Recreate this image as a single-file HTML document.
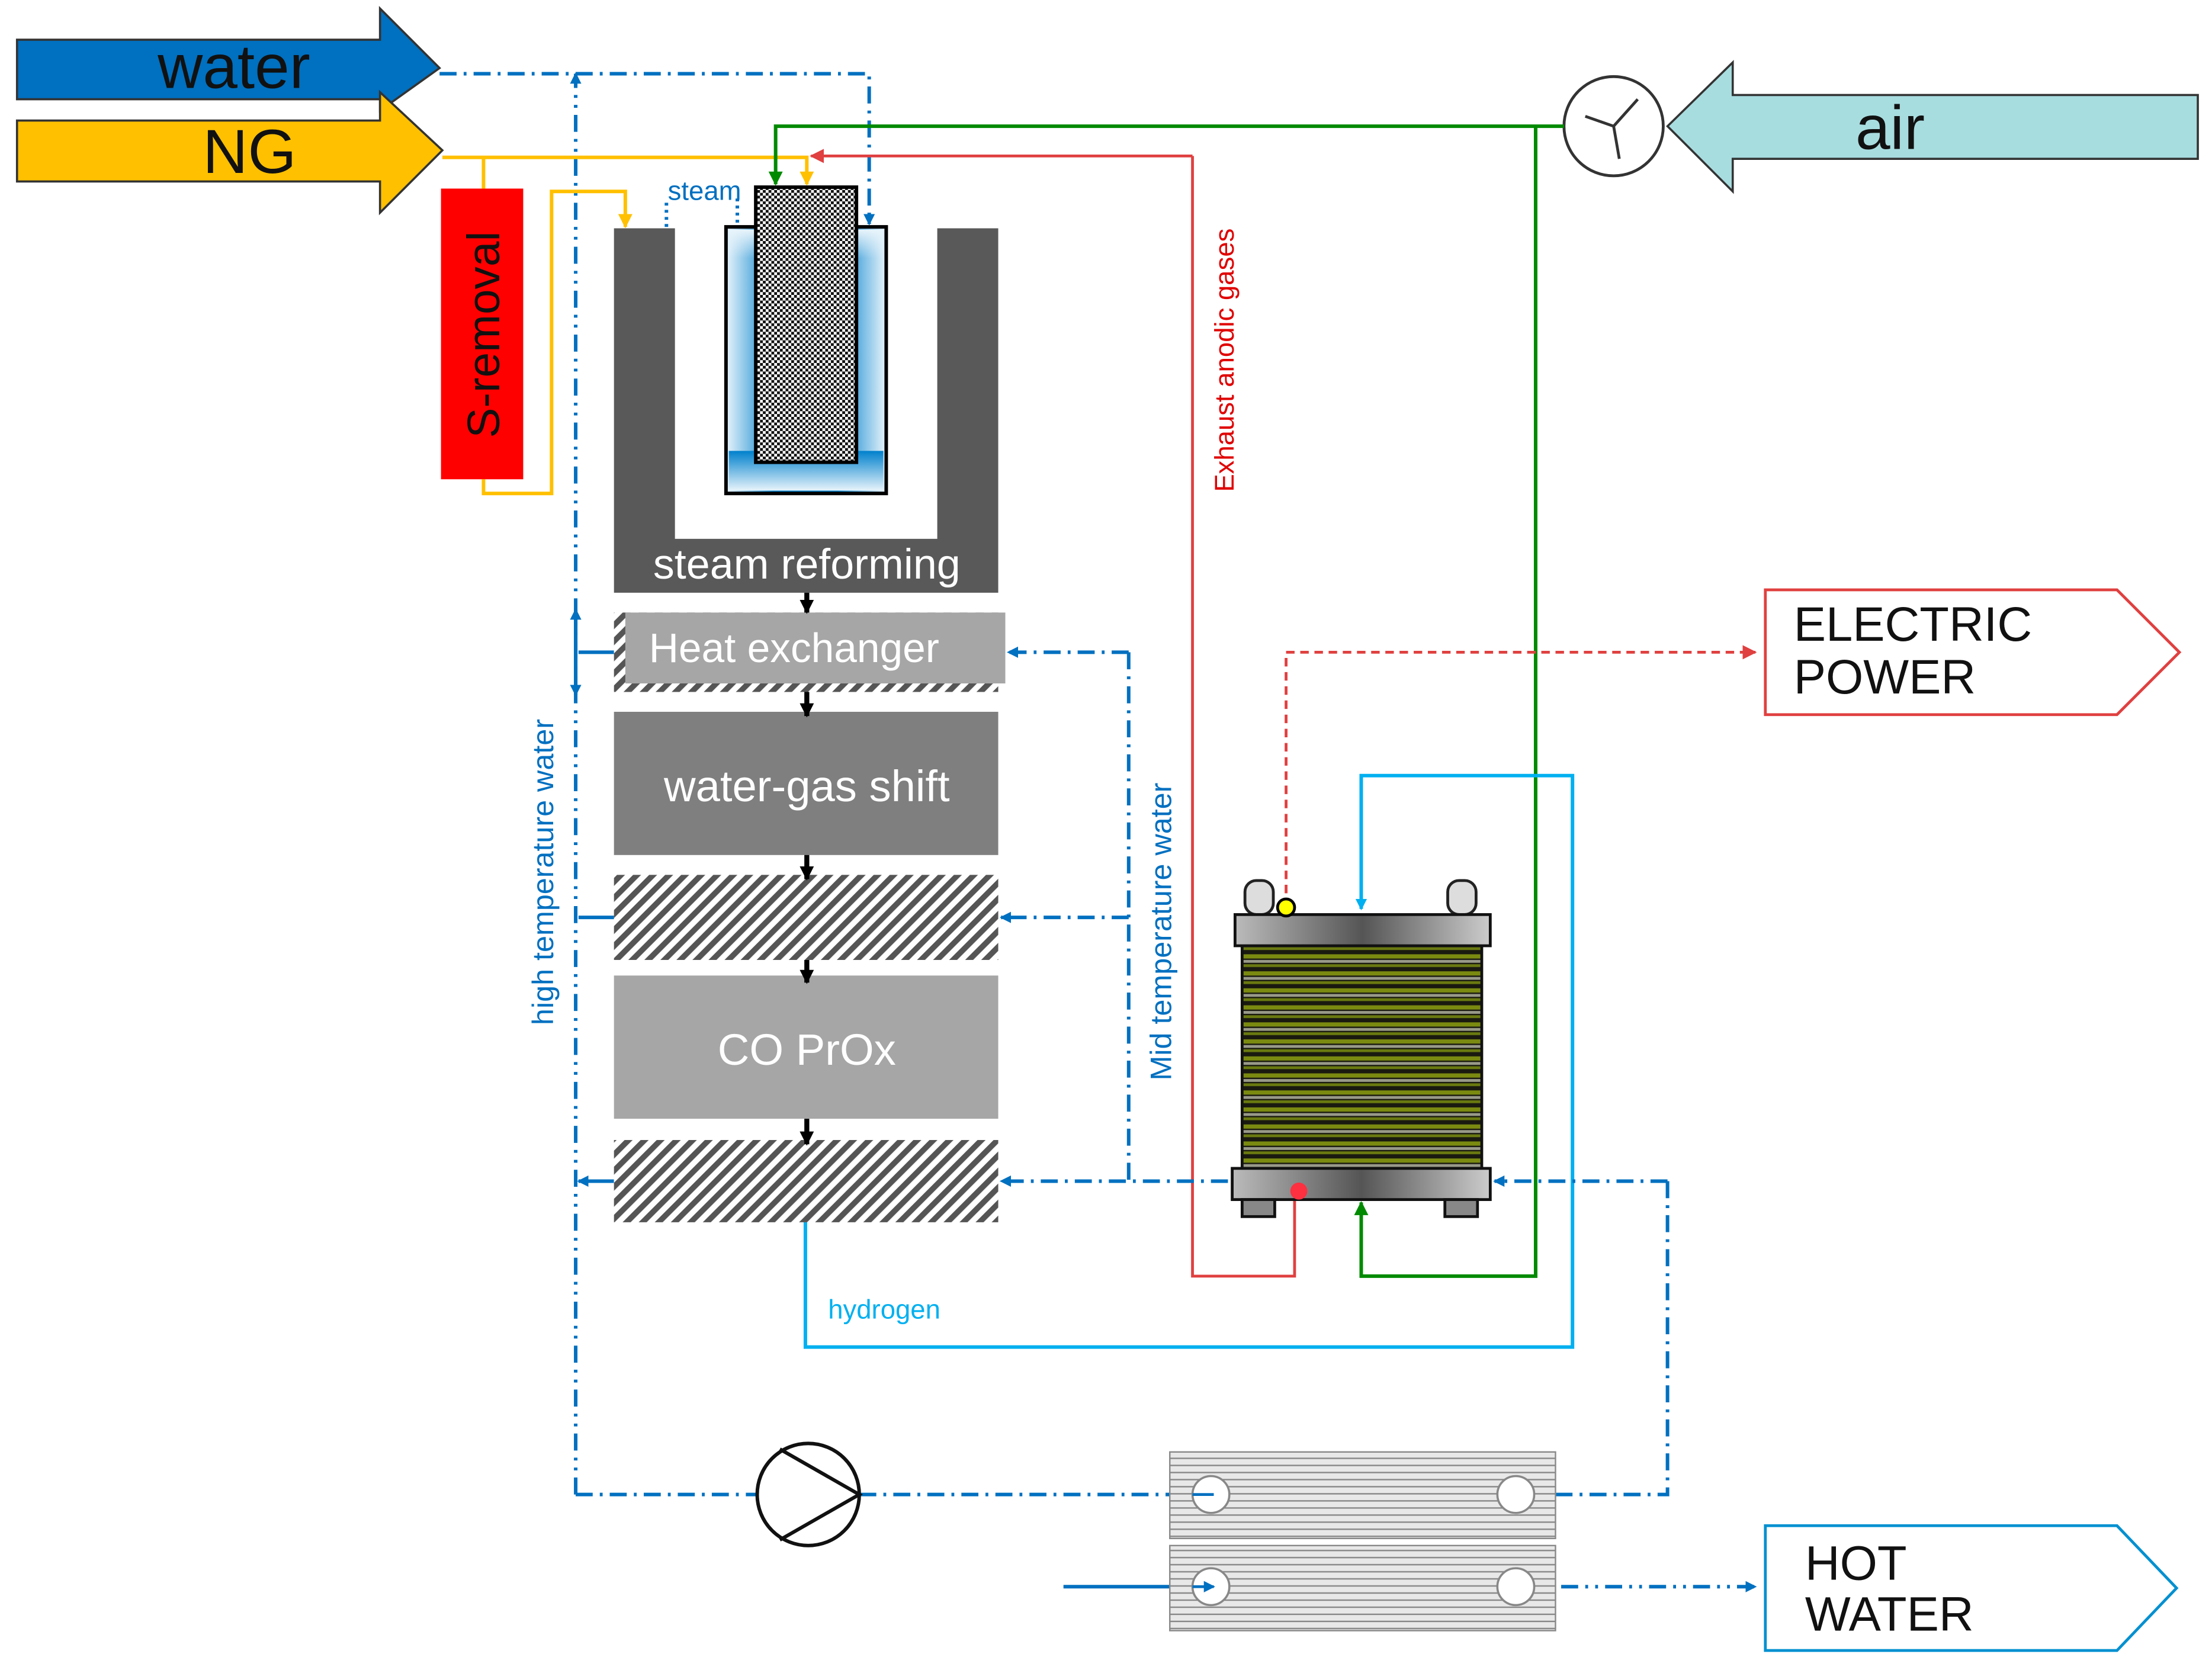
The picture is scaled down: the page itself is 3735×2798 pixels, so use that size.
<!DOCTYPE html>
<html><head><meta charset="utf-8"><style>
html,body{margin:0;padding:0;background:#fff;}
svg{display:block;}
text{font-family:"Liberation Sans",Arial,sans-serif;}
</style></head><body>
<svg width="3735" height="2798" viewBox="0 0 1560 1168.6" preserveAspectRatio="none" xmlns="http://www.w3.org/2000/svg">
<defs>
<pattern id="hatch" width="8" height="8" patternUnits="userSpaceOnUse" patternTransform="rotate(45)">
<rect width="8" height="8" fill="#fff"/><rect width="4" height="8" fill="#555"/>
</pattern>
<pattern id="chk" width="4" height="4" patternUnits="userSpaceOnUse">
<rect width="4" height="4" fill="#fff"/><rect width="2" height="2" fill="#111"/><rect x="2" y="2" width="2" height="2" fill="#111"/>
</pattern>
<linearGradient id="bl" x1="0" x2="1"><stop offset="0" stop-color="#e8f4fb"/><stop offset="0.3" stop-color="#0080cc"/><stop offset="0.7" stop-color="#0080cc"/><stop offset="1" stop-color="#e8f4fb"/></linearGradient>
<linearGradient id="blv" x1="0" x2="0" y1="0" y2="1"><stop offset="0" stop-color="#0080cc"/><stop offset="1" stop-color="#e8f4fb"/></linearGradient>
<linearGradient id="blt" x1="0" x2="0" y1="0" y2="1"><stop offset="0" stop-color="#e8f4fb"/><stop offset="1" stop-color="#e8f4fb" stop-opacity="0"/></linearGradient>
<linearGradient id="plate" x1="0" x2="1"><stop offset="0" stop-color="#bbb"/><stop offset="0.5" stop-color="#555"/><stop offset="1" stop-color="#ccc"/></linearGradient>
<pattern id="stack" width="10" height="12" patternUnits="userSpaceOnUse">
<rect width="10" height="12" fill="#1a1a10"/><rect y="1" width="10" height="3" fill="#7a8a10"/><rect y="5" width="10" height="2" fill="#9a9a8a"/><rect y="8" width="10" height="2" fill="#6a7a10"/>
</pattern>
<pattern id="hx" width="10" height="5" patternUnits="userSpaceOnUse">
<rect width="10" height="5" fill="#e8e8e8"/><rect y="3" width="10" height="1" fill="#888"/>
</pattern>
<marker id="ab" markerWidth="8" markerHeight="8" refX="7" refY="4" orient="auto" markerUnits="userSpaceOnUse"><path d="M0,0 L8,4 L0,8 z" fill="#0070c0"/></marker>
<marker id="ac" markerWidth="8" markerHeight="8" refX="7" refY="4" orient="auto" markerUnits="userSpaceOnUse"><path d="M0,0 L8,4 L0,8 z" fill="#00b0f0"/></marker>
<marker id="ay" markerWidth="10" markerHeight="10" refX="9" refY="5" orient="auto" markerUnits="userSpaceOnUse"><path d="M0,0 L10,5 L0,10 z" fill="#ffc000"/></marker>
<marker id="ag" markerWidth="10" markerHeight="10" refX="9" refY="5" orient="auto" markerUnits="userSpaceOnUse"><path d="M0,0 L10,5 L0,10 z" fill="#008a00"/></marker>
<marker id="ar" markerWidth="10" markerHeight="10" refX="9" refY="5" orient="auto" markerUnits="userSpaceOnUse"><path d="M0,0 L10,5 L0,10 z" fill="#e04040"/></marker>
<marker id="ak" markerWidth="10" markerHeight="10" refX="9" refY="5" orient="auto" markerUnits="userSpaceOnUse"><path d="M0,0 L10,5 L0,10 z" fill="#000"/></marker>
</defs>

<path d="M12,28 H268 V6 L310,48 L268,78 V70 H12 z" fill="#0070c0" stroke="#333" stroke-width="1.5"/>
<text x="165" y="62" font-size="44" text-anchor="middle" fill="#111">water</text>
<path d="M12,85 H268 V65 L312,106 L268,150 V128 H12 z" fill="#ffc000" stroke="#333" stroke-width="1.5"/>
<text x="176" y="122" font-size="44" text-anchor="middle" fill="#111">NG</text>
<path d="M1550,67 H1222 V44 L1176,89 L1222,135 V112 H1550 z" fill="#a8dde0" stroke="#333" stroke-width="1.5"/>
<text x="1333" y="105" font-size="44" text-anchor="middle" fill="#111">air</text>
<circle cx="1138" cy="89" r="35" fill="#fff" stroke="#333" stroke-width="2"/>
<path d="M1138,89 L1155,70 M1138,89 L1118,82 M1138,89 L1142,112" stroke="#333" stroke-width="2"/>

<rect x="311" y="133" width="58" height="205" fill="#ff0000"/>
<text transform="translate(352,236) rotate(-90)" font-size="32" text-anchor="middle" fill="#111">S-removal</text>

<g fill="none" stroke-width="2.5">
<path d="M310,52 H613 V158" stroke="#0070c0" stroke-dasharray="12,5,2,5" marker-end="url(#ab)"/>
<path d="M406,1054 V52" stroke="#0070c0" stroke-dasharray="12,5,2,5,2,5" marker-end="url(#ab)"/>
<path d="M312,111 H569 V130" stroke="#ffc000" marker-end="url(#ay)"/>
<path d="M341,111 V133 M341,338 V348 H389 V135 H441 V160" stroke="#ffc000" marker-end="url(#ay)"/>
<path d="M470,160 V140 M520,140 V160" stroke="#0070c0" stroke-dasharray="2,3"/>
<path d="M1103,89 H547 V130" stroke="#008a00" marker-end="url(#ag)"/>
<path d="M1083,89 V900 H960 V848" stroke="#008a00" marker-end="url(#ag)"/>
<path d="M841,110 H572" stroke="#e04040" stroke-width="2" marker-end="url(#ar)"/>
<path d="M841,110 V900 H913 V845" stroke="#e04040" stroke-width="2"/>
<path d="M907,630 V460 H1238" stroke="#e04040" stroke-width="2" stroke-dasharray="6,4" marker-end="url(#ar)"/>
<path d="M568,862 V950 H1109 V547 H960 V641" stroke="#00b0f0" marker-end="url(#ac)"/>
<path d="M796,460 V833" stroke="#0070c0" stroke-dasharray="12,5,2,5"/>
<path d="M796,460 H711" stroke="#0070c0" stroke-dasharray="12,5,2,5" marker-end="url(#ab)"/>
<path d="M796,647 H706" stroke="#0070c0" stroke-dasharray="12,5,2,5" marker-end="url(#ab)"/>
<path d="M866,833 H706" stroke="#0070c0" stroke-dasharray="12,5,2,5" marker-end="url(#ab)"/>
<path d="M433,460 H408 M433,647 H408 M433,833 H408" stroke="#0070c0" marker-end="url(#ab)"/>
<path d="M406,430 V490" stroke="#0070c0" marker-end="url(#ab)"/>
<path d="M406,490 V430" stroke="#0070c0" marker-end="url(#ab)"/>
<path d="M1176,833 V1054 H1097" stroke="#0070c0" stroke-dasharray="12,5,2,5"/>
<path d="M1176,833 H1054" stroke="#0070c0" stroke-dasharray="12,5,2,5" marker-end="url(#ab)"/>
<path d="M406,1054 H534 M606,1054 H852" stroke="#0070c0" stroke-dasharray="12,5,2,5" marker-end="url(#ab)"/>
<path d="M750,1119 H852" stroke="#0070c0" marker-end="url(#ab)"/>
<path d="M1070,1119 H1238" stroke="#0070c0" stroke-dasharray="12,5,2,5,2,5" marker-end="url(#ab)"/>
</g>
<text x="471" y="141" font-size="19" fill="#0070c0">steam</text>

<path d="M433,161 H476 V380 H661 V161 H704 V418 H433 z" fill="#595959"/>
<text x="569" y="408" font-size="30" text-anchor="middle" fill="#fff">steam reforming</text>
<rect x="512" y="160" width="113" height="188" fill="url(#bl)" stroke="#000" stroke-width="2.5"/>
<rect x="514" y="162" width="109" height="20" fill="url(#blt)"/>
<rect x="514" y="318" width="109" height="28" fill="url(#blv)"/>
<rect x="533" y="132" width="71" height="194" fill="url(#chk)" stroke="#000" stroke-width="2.5"/>

<rect x="433" y="432" width="271" height="56" fill="url(#hatch)"/>
<rect x="441" y="432" width="268" height="50" fill="#a6a6a6"/>
<text x="560" y="467" font-size="29" text-anchor="middle" fill="#fff">Heat exchanger</text>
<rect x="433" y="502" width="271" height="101" fill="#7f7f7f"/>
<text x="569" y="565" font-size="31" text-anchor="middle" fill="#fff">water-gas shift</text>
<rect x="433" y="617" width="271" height="60" fill="url(#hatch)"/>
<rect x="433" y="688" width="271" height="101" fill="#a6a6a6"/>
<text x="569" y="751" font-size="31" text-anchor="middle" fill="#fff">CO PrOx</text>
<rect x="433" y="804" width="271" height="58" fill="url(#hatch)"/>
<g stroke="#000" stroke-width="3.5" fill="none">
<path d="M569,418 V432" marker-end="url(#ak)"/><path d="M569,488 V505" marker-end="url(#ak)"/>
<path d="M569,603 V620" marker-end="url(#ak)"/><path d="M569,677 V693" marker-end="url(#ak)"/>
<path d="M569,789 V807" marker-end="url(#ak)"/>
</g>

<text transform="translate(390,615) rotate(-90)" font-size="21" text-anchor="middle" fill="#0070c0">high temperature water</text>
<text transform="translate(826,657) rotate(-90)" font-size="21" text-anchor="middle" fill="#0070c0">Mid temperature water</text>
<text transform="translate(870,254) rotate(-90)" font-size="19" text-anchor="middle" fill="#e00000">Exhaust anodic gases</text>
<text x="584" y="930" font-size="19" fill="#00b0f0">hydrogen</text>

<rect x="878" y="621" width="20" height="24" rx="8" fill="#ddd" stroke="#222" stroke-width="2"/>
<rect x="1021" y="621" width="20" height="24" rx="8" fill="#ddd" stroke="#222" stroke-width="2"/>
<rect x="876" y="666" width="169" height="158" fill="url(#stack)" stroke="#111" stroke-width="2"/>
<rect x="871" y="645" width="180" height="22" fill="url(#plate)" stroke="#111" stroke-width="2"/>
<rect x="869" y="824" width="182" height="22" fill="url(#plate)" stroke="#111" stroke-width="2"/>
<rect x="876" y="846" width="23" height="12" fill="#888" stroke="#111" stroke-width="2"/>
<rect x="1019" y="846" width="23" height="12" fill="#888" stroke="#111" stroke-width="2"/>
<circle cx="907" cy="640" r="6" fill="#ffff00" stroke="#000" stroke-width="2"/>
<circle cx="916" cy="840" r="6" fill="#ff3040"/>

<path d="M1245,416 H1493 L1537,460 L1493,504 H1245 z" fill="#fff" stroke="#e04040" stroke-width="2"/>
<text x="1265" y="452" font-size="34" fill="#111">ELECTRIC</text>
<text x="1265" y="489" font-size="34" fill="#111">POWER</text>
<path d="M1245,1076 H1493 L1535,1120 L1493,1164 H1245 z" fill="#fff" stroke="#0090d0" stroke-width="2"/>
<text x="1273" y="1114" font-size="34" fill="#111">HOT</text>
<text x="1273" y="1150" font-size="34" fill="#111">WATER</text>

<circle cx="570" cy="1054" r="36" fill="#fff" stroke="#111" stroke-width="2.5"/>
<path d="M550,1022 L606,1054 L550,1086" fill="none" stroke="#111" stroke-width="2.5"/>

<rect x="825" y="1024" width="272" height="61" fill="url(#hx)" stroke="#888"/>
<rect x="825" y="1090" width="272" height="60" fill="url(#hx)" stroke="#888"/>
<g fill="#fff" stroke="#888" stroke-width="1.5">
<circle cx="854" cy="1054" r="13"/><circle cx="1069" cy="1054" r="13"/>
<circle cx="854" cy="1119" r="13"/><circle cx="1069" cy="1119" r="13"/>
</g>
<path d="M841,1054 H856 M841,1119 H856" stroke="#0070c0" stroke-width="2" marker-end="url(#ab)"/>
</svg>
</body></html>
